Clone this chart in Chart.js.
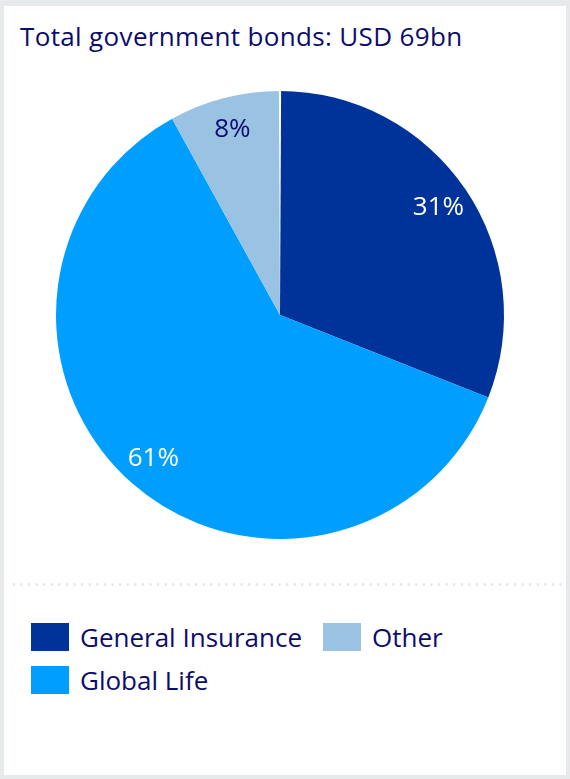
<!DOCTYPE html>
<html>
<head>
<meta charset="utf-8">
<script src="https://cdn.jsdelivr.net/npm/chart.js@4"></script>
<style>
  html, body { margin:0; padding:0; background:#fff; }
  #frame { position:relative; width:570px; height:779px; box-sizing:border-box;
    border:4px solid #e6eaea; border-top-width:6px; background:#fff; overflow:hidden;
    font-family:"Open Sans", "Noto Sans", sans-serif; color:#0c0c6c; }
  #title { position:absolute; left:16px; top:12px; font-size:26px; white-space:nowrap; letter-spacing:0.35px; }
  #pie { position:absolute; left:-4px; top:-6px; }
  #sep { position:absolute; left:6px; right:0px; top:577px; height:3px;
    background-image:radial-gradient(circle, #e3e8e8 1.2px, transparent 1.5px);
    background-size:7.6px 3px; background-repeat:repeat-x; }
  #legend { position:absolute; left:0; top:0; width:100%; font-size:26px; }
  .item { position:absolute; display:flex; align-items:center; white-space:nowrap; letter-spacing:0px; }
  .box { width:38px; height:28px; margin-right:11px; }
</style>
</head>
<body>
<div id="frame">
  <div id="title"></div>
  <canvas id="pie" width="570" height="560"></canvas>
  <div id="sep"></div>
  <div id="legend"></div>
</div>
<script>
const chartTitle = "Total government bonds: USD 69bn";
const categories = ["General Insurance", "Global Life", "Other"];
const shares = [31, 61, 8];
const sliceColors = ["#003399", "#009fff", "#99c2e3"];
const labelColors = ["#ffffff", "#ffffff", "#0c0c6c"];
const legendOrder = [0, 2, 1];

document.getElementById('title').textContent = chartTitle;

const sliceLabels = {
  id: 'sliceLabels',
  afterDatasetsDraw(chart) {
    const ctx = chart.ctx;
    const meta = chart.getDatasetMeta(0);
    const a0 = meta.data[0];
    ctx.save();
    const r = a0.outerRadius, sa = a0.startAngle;
    const w = 1.1 / r;
    ctx.fillStyle = '#ffffff';
    ctx.beginPath();
    ctx.moveTo(a0.x, a0.y);
    ctx.lineTo(a0.x + Math.cos(sa - w) * (r + 1), a0.y + Math.sin(sa - w) * (r + 1));
    ctx.lineTo(a0.x + Math.cos(sa + w) * (r + 1), a0.y + Math.sin(sa + w) * (r + 1));
    ctx.closePath();
    ctx.fill();
    ctx.font = '26px "Open Sans", "Noto Sans", sans-serif';
    ctx.textAlign = 'center';
    ctx.textBaseline = 'middle';
    meta.data.forEach((arc, i) => {
      const mid = (arc.startAngle + arc.endAngle) / 2;
      const rr = arc.outerRadius * 0.855;
      ctx.fillStyle = labelColors[i];
      ctx.fillText(shares[i] + '%', arc.x + Math.cos(mid) * rr, arc.y + Math.sin(mid) * rr);
    });
    ctx.restore();
  }
};

new Chart(document.getElementById('pie'), {
  type: 'pie',
  data: {
    labels: categories,
    datasets: [{ data: shares, backgroundColor: sliceColors, borderWidth: 0, hoverOffset: 0 }]
  },
  options: {
    responsive: false,
    animation: false,
    layout: { padding: { left: 54, right: 64, top: 91, bottom: 21 } },
    plugins: { legend: { display: false }, tooltip: { enabled: false }, title: { display: false } },
    events: []
  },
  plugins: [sliceLabels]
});

const legendPos = [[27, 613], [319, 613], [27, 656]];
const legend = document.getElementById('legend');
legendOrder.forEach((idx, k) => {
  const it = document.createElement('div');
  it.className = 'item';
  it.style.left = legendPos[k][0] + 'px';
  it.style.top = legendPos[k][1] + 'px';
  const b = document.createElement('div');
  b.className = 'box';
  b.style.background = sliceColors[idx];
  const t = document.createElement('span');
  t.textContent = categories[idx];
  it.appendChild(b); it.appendChild(t);
  legend.appendChild(it);
});
</script>
</body>
</html>
